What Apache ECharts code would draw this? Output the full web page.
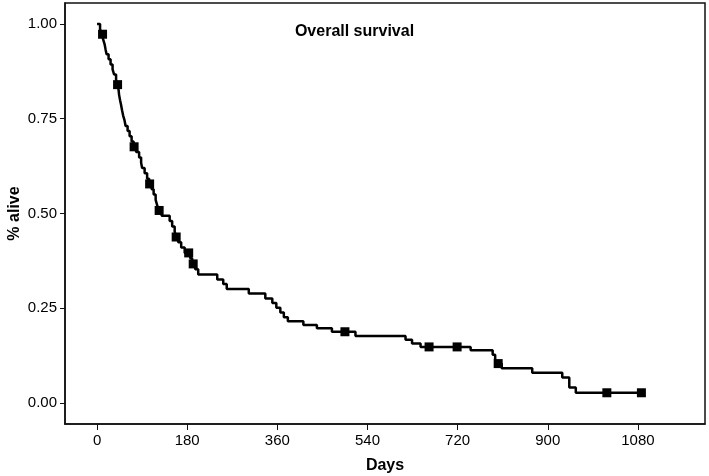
<!DOCTYPE html>
<html>
<head>
<meta charset="utf-8">
<script src="https://cdn.jsdelivr.net/npm/echarts@6/dist/echarts.min.js"></script>
<style>html,body{margin:0;padding:0;background:#fff}#c{width:709px;height:476px}</style>
</head>
<body>
<div id="c"></div>
<script>
// Kaplan-Meier event steps: survival becomes surv[i] at day eventDays[i]
const eventDays = [0,6,9,12,15,17,19,23,27,31,34,38,41,43,44,46,48,50,52,55,57,61,65,69,73,78,84,88,90,95,100,104,109,113,117,120,123,129,145,150,155,158,162,168,175,186,190,196,202,240,252,259,303,336,350,358,366,373,381,412,439,469,516,616,629,646,746,790,795,797,808,869,929,943,956,1087];
const surv = [1.000,0.987,0.973,0.960,0.947,0.933,0.920,0.907,0.893,0.880,0.867,0.853,0.840,0.826,0.813,0.799,0.786,0.772,0.759,0.745,0.731,0.718,0.704,0.690,0.676,0.662,0.648,0.634,0.620,0.606,0.592,0.578,0.564,0.550,0.536,0.522,0.508,0.494,0.480,0.466,0.452,0.438,0.424,0.410,0.396,0.382,0.367,0.353,0.339,0.326,0.314,0.301,0.289,0.276,0.264,0.251,0.239,0.226,0.216,0.206,0.197,0.188,0.177,0.167,0.157,0.148,0.139,0.127,0.115,0.104,0.092,0.080,0.067,0.041,0.027,0.027];
// censored observations
const censorDays = [11,41,74,105,124,158,183,192,495,663,719,801,1018,1087];
const censorSurv = [0.973,0.840,0.676,0.578,0.508,0.438,0.396,0.367,0.188,0.148,0.148,0.104,0.027,0.027];
const xTicks = [0,180,360,540,720,900,1080];
const yTicks = [0,0.25,0.5,0.75,1];
const titleText = 'Overall survival';
const xName = 'Days';
const yName = '% alive';

const FONT = '"Liberation Sans", Arial, sans-serif';
const chart = echarts.init(document.getElementById('c'), null, {renderer:'canvas'});
chart.setOption({
  animation: false,
  backgroundColor: '#fff',
  title: {
    text: titleText, left: 'center', top: 19,
    textStyle: {fontFamily: FONT, fontSize: 16, fontWeight: 'bold', color: '#000'}
  },
  grid: {left: 65, right: 4, top: 3, bottom: 52, containLabel: false, outerBoundsMode: 'none',
    show: true, borderColor: '#111', borderWidth: 1.5, backgroundColor: '#fff'},
  xAxis: {
    type: 'value', min: -64, max: 1214,
    name: xName, nameLocation: 'middle', nameGap: 34,
    nameTextStyle: {fontFamily: FONT, fontSize: 16, fontWeight: 'bold', color: '#000'},
    axisLine: {show: true, onZero: false, lineStyle: {color: '#111', width: 1.5}},
    axisTick: {show: true, inside: false, length: 6, customValues: xTicks, lineStyle: {color: '#111', width: 1}},
    axisLabel: {customValues: xTicks, fontFamily: FONT, fontSize: 15, color: '#000', margin: 9, formatter: v => String(v)},
    splitLine: {show: false}
  },
  yAxis: {
    type: 'value', min: -0.0554, max: 1.0554,
    name: yName, nameLocation: 'middle', nameGap: 42, nameMoveOverlap: false,
    nameTextStyle: {fontFamily: FONT, fontSize: 16, fontWeight: 'bold', color: '#000'},
    axisLine: {show: true, onZero: false, lineStyle: {color: '#111', width: 1.5}},
    axisTick: {show: true, inside: false, length: 5, customValues: yTicks, lineStyle: {color: '#111', width: 1}},
    axisLabel: {customValues: yTicks, fontFamily: FONT, fontSize: 15, color: '#000', margin: 8, formatter: v => v.toFixed(2)},
    splitLine: {show: false}
  },
  series: [
    {
      type: 'line', step: 'end', showSymbol: false, symbol: 'none',
      data: eventDays.map((d, i) => [d, surv[i]]),
      lineStyle: {color: '#000', width: 2.5}
    },
    {
      type: 'scatter', symbol: 'rect', symbolSize: 9,
      data: censorDays.map((d, i) => [d, censorSurv[i]]),
      itemStyle: {color: '#000', opacity: 1}
    }
  ]
});
</script>
</body>
</html>
